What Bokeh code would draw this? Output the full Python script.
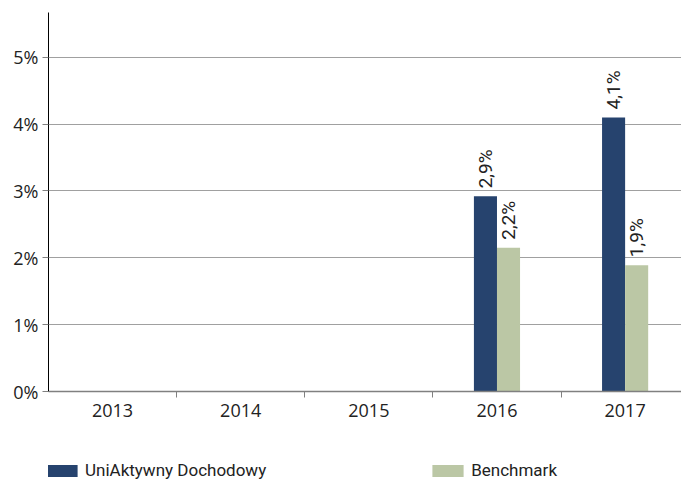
from bokeh.plotting import figure
from bokeh.models import (ColumnDataSource, FixedTicker, Range1d, Legend, LegendItem)
from bokeh.layouts import column
from bokeh.embed import file_html
from bokeh.resources import INLINE
from bokeh.core.properties import value
import math

years = ["2013", "2014", "2015", "2016", "2017"]
fund_years = [3, 4]
fund_vals = [2.92, 4.10]
fund_labels = ["2,9%", "4,1%"]
bench_vals = [2.15, 1.89]
bench_labels = ["2,2%", "1,9%"]
y_ticks = [0, 1, 2, 3, 4, 5]
y_tick_labels = ["0%", "1%", "2%", "3%", "4%", "5%"]
series_names = ["UniAktywny Dochodowy", "Benchmark"]

NAVY = "#26436e"
GREEN = "#bbc7a5"
FONT = "Open Sans"
LFONT = "Roboto"
TXT = "#222222"

p = figure(width=681, height=440, output_backend="svg", toolbar_location=None,
           x_range=Range1d(-0.5, 4.44), y_range=Range1d(0, 5.67),
           min_border_left=48, min_border_right=0, min_border_top=12, min_border_bottom=49)
p.outline_line_color = None

bw = 0.18
fsrc = ColumnDataSource(dict(x=[i - bw / 2 for i in fund_years], top=fund_vals, lab=fund_labels))
bsrc = ColumnDataSource(dict(x=[i + bw / 2 for i in fund_years], top=bench_vals, lab=bench_labels))

p.vbar(x="x", top="top", bottom=0, width=bw, source=fsrc, fill_color=NAVY, line_color=None)
p.vbar(x="x", top="top", bottom=0, width=bw, source=bsrc, fill_color=GREEN, line_color=None)

for src in (fsrc, bsrc):
    p.text(x="x", y="top", text="lab", source=src, angle=math.pi / 2,
           text_align="left", text_baseline="middle", y_offset=-8, x_offset=0,
           text_font=value(LFONT), text_font_size="19px", text_color=TXT)

xa = p.xaxis[0]
xa.ticker = FixedTicker(ticks=list(range(len(years))), minor_ticks=[0.5, 1.5, 2.5, 3.5])
xa.major_label_overrides = {i: y for i, y in enumerate(years)}
xa.major_tick_line_color = None
xa.minor_tick_out = 6
xa.minor_tick_in = 0
xa.minor_tick_line_color = "#808080"
xa.axis_line_color = "#808080"
xa.axis_line_width = 1.5
xa.major_label_text_font = FONT
xa.major_label_text_font_size = "18px"
xa.major_label_text_color = TXT
xa.major_label_standoff = 6

ya = p.yaxis[0]
ya.ticker = FixedTicker(ticks=y_ticks, minor_ticks=[])
ya.major_label_overrides = {t: l for t, l in zip(y_ticks, y_tick_labels)}
ya.axis_line_color = "black"
ya.major_tick_line_color = "#808080"
ya.major_tick_out = 6
ya.major_tick_in = 0
ya.major_label_text_font = FONT
ya.major_label_text_font_size = "18px"
ya.major_label_text_color = TXT
ya.major_label_standoff = 4

p.xgrid.grid_line_color = None
p.ygrid.ticker = FixedTicker(ticks=[1, 2, 3, 4, 5])
p.ygrid.grid_line_color = "#a0a0a0"
p.ygrid.grid_line_width = 1

# legend strip
p2 = figure(width=681, height=41, output_backend="svg", toolbar_location=None,
            x_range=Range1d(0, 1), y_range=Range1d(0, 1),
            min_border_left=0, min_border_right=0, min_border_top=0, min_border_bottom=0)
p2.axis.visible = False
p2.grid.visible = False
p2.outline_line_color = None
d1 = p2.vbar(x=[-10], top=[0], width=0.1, fill_color=NAVY, line_color=None)
d2 = p2.vbar(x=[-10], top=[0], width=0.1, fill_color=GREEN, line_color=None)

lg = Legend(items=[LegendItem(label=series_names[0], renderers=[d1]),
                   LegendItem(label=series_names[1], renderers=[d2])],
            location=(-6, 1), orientation="horizontal", border_line_color=None,
            background_fill_alpha=0, padding=0, margin=0, spacing=162,
            glyph_width=39, glyph_height=15, label_standoff=4,
            label_text_font=LFONT, label_text_font_size="17px", label_text_color=TXT)
p2.add_layout(lg, "center")

open("out.html", "w").write(file_html(column(p, p2, spacing=0), INLINE))
